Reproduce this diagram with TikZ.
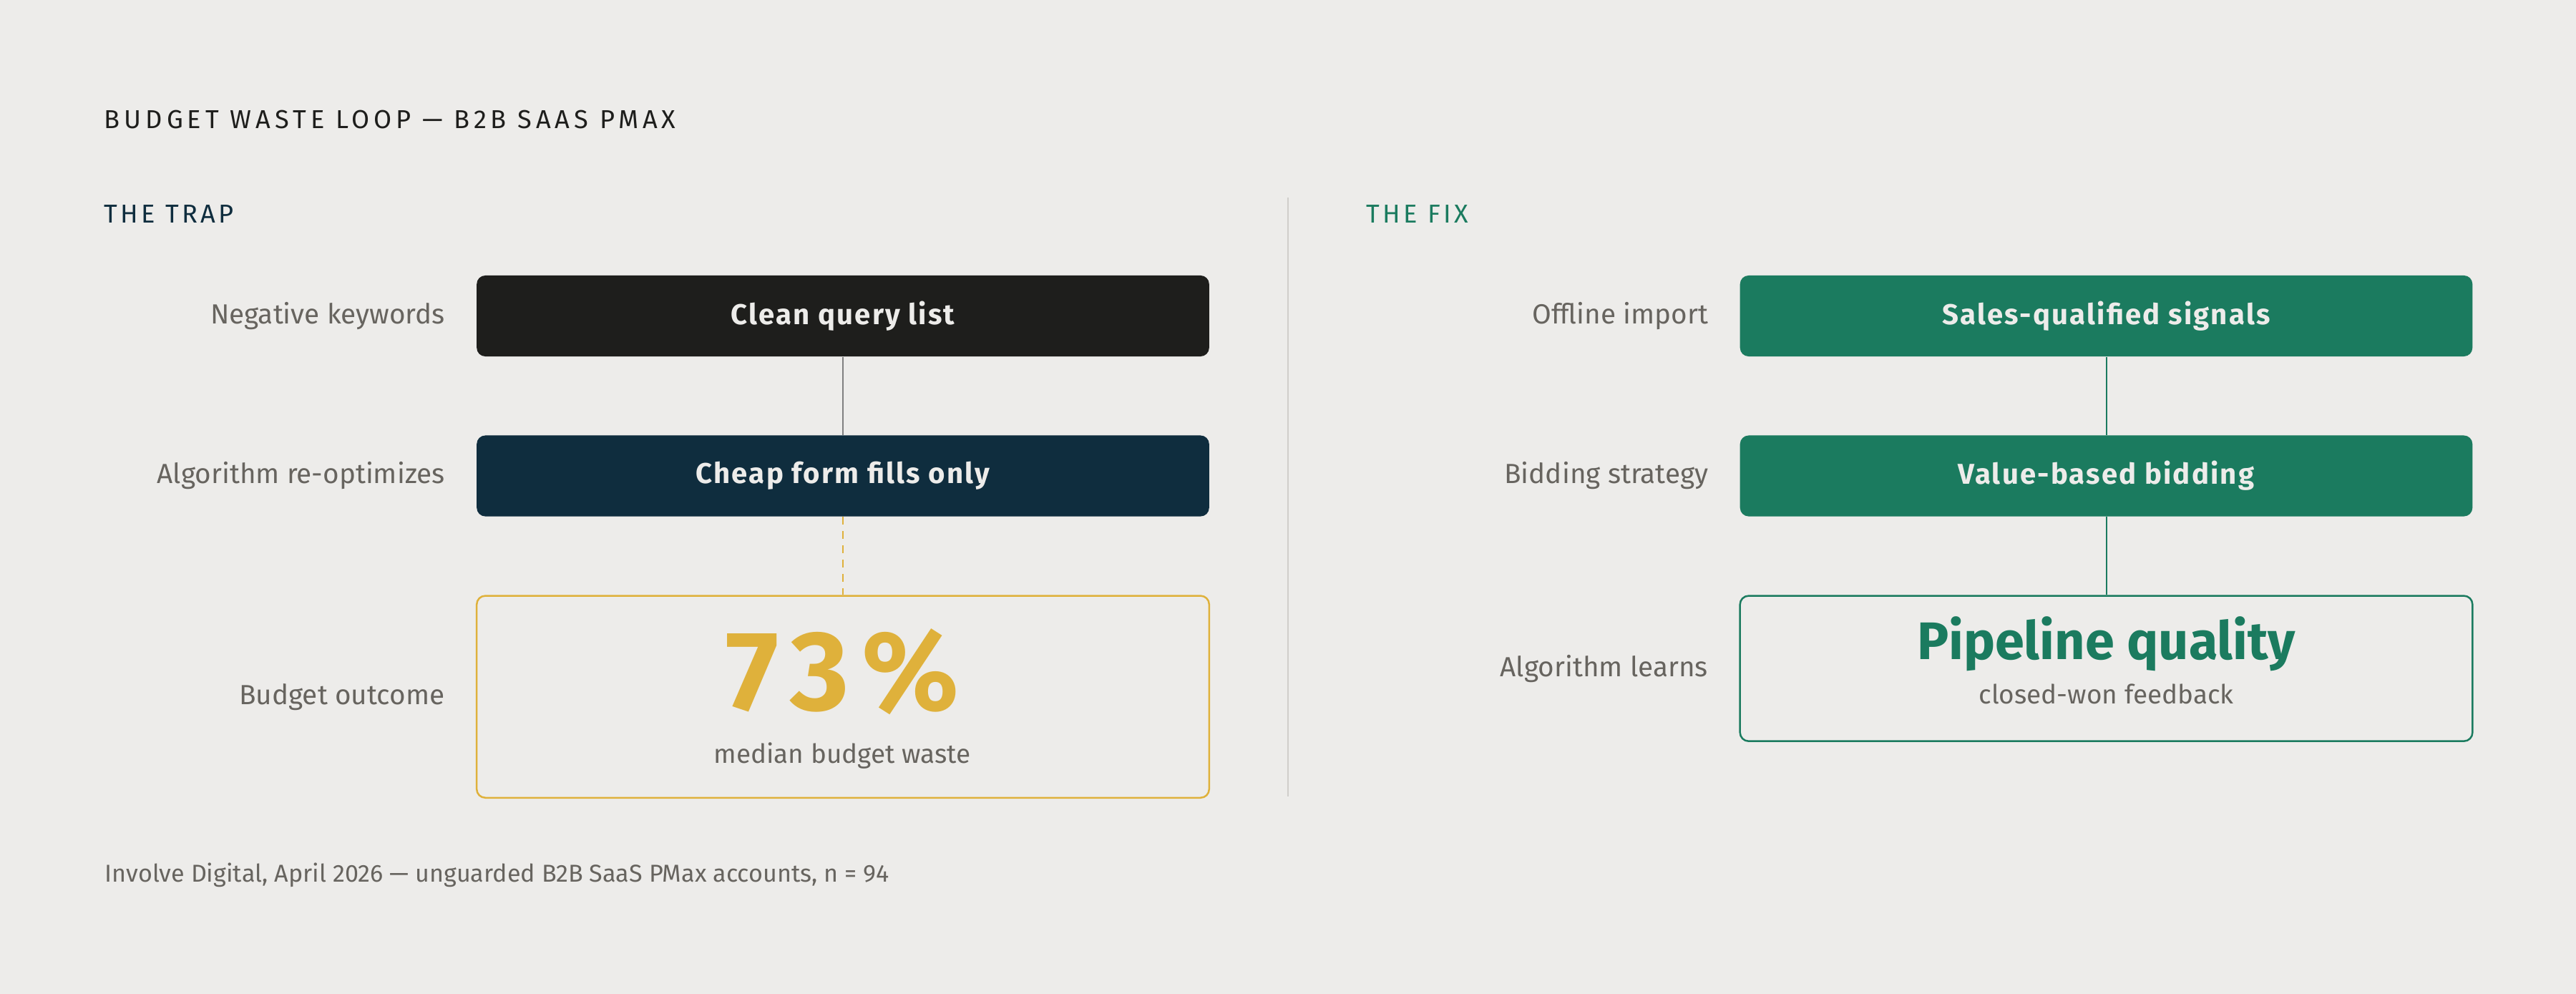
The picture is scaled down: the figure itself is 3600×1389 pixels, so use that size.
\documentclass[tikz,border=0pt]{standalone}
\usepackage{fontspec}
\setmainfont{Fira Sans}
\usetikzlibrary{positioning}
\definecolor{paper}{HTML}{EDECEA}
\definecolor{ink}{HTML}{1E1E1C}
\definecolor{navy}{HTML}{0F2D3E}
\definecolor{fixgreen}{HTML}{1B7B5F}
\definecolor{gold}{HTML}{DFB13B}
\definecolor{muted}{HTML}{67645F}
\definecolor{rulegray}{HTML}{D0CECB}
\newcommand{\capsspaced}[2][12]{{\addfontfeatures{LetterSpace=#1}#2}}

\begin{document}
\begin{tikzpicture}[x=0.01cm, y=-0.01cm, node distance=1.09cm,
    stepbox/.style={rounded corners=0.12cm, minimum width=10.23cm, minimum height=1.13cm,
        inner sep=0, text=paper, font=\fontsize{11.4}{14}\selectfont\bfseries\addfontfeatures{LetterSpace=5.5}},
    outcomebox/.style={draw, line width=0.025cm, rounded corners=0.12cm, minimum width=10.23cm, inner sep=0},
    sidelabel/.style={text=muted, inner sep=0, font=\fontsize{11}{13}\selectfont},
    header/.style={anchor=base west, inner sep=0, font=\fontsize{10.3}{12}\selectfont},
    link/.style={line width=0.02cm}]
    \fill[paper] (0,0) rectangle (3600,1389);
    \useasboundingbox (0,0) rectangle (3600,1389);

    \node[header, text=ink] (title) at (145,180) {\capsspaced[16.6]{BUDGET WASTE LOOP — B2B SAAS PMAX}};
    \node[header, text=navy] (traphead) at (145,312) {\capsspaced{THE TRAP}};
    \node[header, text=fixgreen] (fixhead) at (1909,312) {\capsspaced{THE FIX}};

    % the trap
    \node[stepbox, fill=ink] (trap1) at (1178,441.5) {Clean query list};
    \node[stepbox, fill=navy, below=of trap1] (trap2) {Cheap form fills only};
    \node[outcomebox, gold, minimum height=2.82cm, below=of trap2] (waste) {};
    \node[anchor=base, inner sep=0, text=gold, font=\fontsize{45}{50}\selectfont\bfseries] (wastepct) at (1177,992) {\capsspaced[11]{73\%}};
    \node[anchor=base, inner sep=0, text=muted, font=\fontsize{10.5}{12}\selectfont] (wastenote) at (1177,1066) {median budget waste};

    \node[sidelabel, left=0.43cm of trap1] {Negative keywords};
    \node[sidelabel, left=0.43cm of trap2] {Algorithm re-optimizes};
    \node[sidelabel, left=0.43cm of waste] {Budget outcome};

    \draw[link, gray] (trap1) -- (trap2);
    \draw[link, gold, dash pattern=on 0.11cm off 0.09cm] (trap2) -- (waste);

    \draw[rulegray, line width=0.015cm] (1800,276) -- (1800,1113);

    % the fix
    \node[stepbox, fill=fixgreen] (fix1) at (2943.5,441.5) {Sales-qualified signals};
    \node[stepbox, fill=fixgreen, below=of fix1] (fix2) {Value-based bidding};
    \node[outcomebox, fixgreen, minimum height=2.03cm, below=of fix2] (pipeline) {};
    \node[anchor=base, inner sep=0, text=fixgreen, font=\fontsize{21}{24}\selectfont\bfseries] (pipetitle) at (2943.5,922) {Pipeline quality};
    \node[anchor=base, inner sep=0, text=muted, font=\fontsize{10.5}{12}\selectfont] (pipenote) at (2943.5,983) {closed-won feedback};

    \node[sidelabel, left=0.43cm of fix1] {Offline import};
    \node[sidelabel, left=0.43cm of fix2] {Bidding strategy};
    \node[sidelabel, left=0.43cm of pipeline] {Algorithm learns};

    \draw[link, fixgreen] (fix1) -- (fix2);
    \draw[link, fixgreen] (fix2) -- (pipeline);

    \node[anchor=base west, inner sep=0, text=muted, font=\fontsize{9.7}{12}\selectfont] (source) at (146,1232)
        {Involve Digital, April 2026 — unguarded B2B SaaS PMax accounts, n = 94};
\end{tikzpicture}
\end{document}
